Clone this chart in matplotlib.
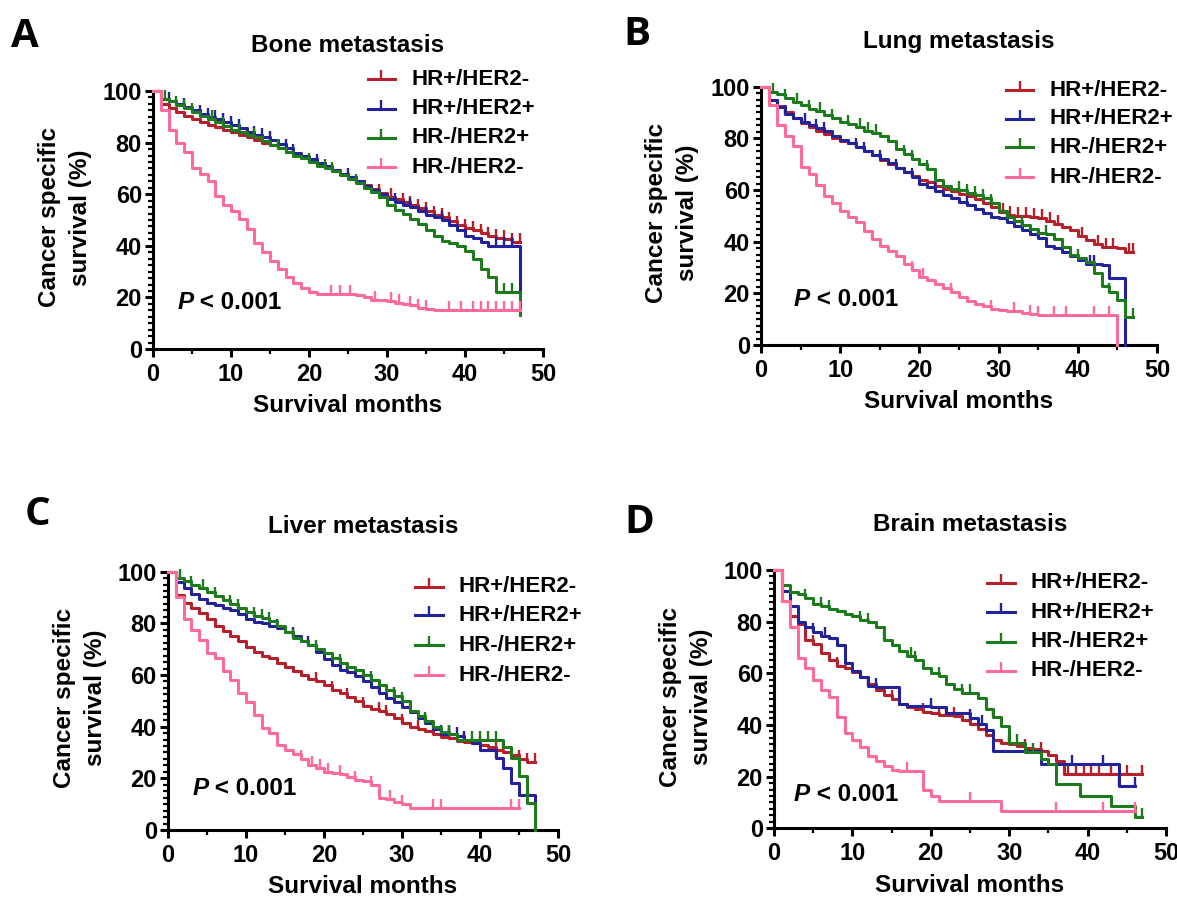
import numpy as np
import matplotlib
matplotlib.use('Agg')
import matplotlib.pyplot as plt
from matplotlib.ticker import MultipleLocator

plt.rcParams['font.family'] = ['Liberation Sans', 'DejaVu Sans']
plt.rcParams['font.weight'] = 'bold'

groups = ['HR+/HER2-', 'HR+/HER2+', 'HR-/HER2+', 'HR-/HER2-']
colors = ['#B5202A', '#22229A', '#1D7A1D', '#FF6A9C']
titles = ['Bone metastasis', 'Lung metastasis', 'Liver metastasis', 'Brain metastasis']
letters = ['A', 'B', 'C', 'D']
x_ticks = [0, 10, 20, 30, 40, 50]
y_ticks = [0, 20, 40, 60, 80, 100]

# survival (%) in each month interval [m, m+1); final = value after the last step
a_red = [100, 95, 93.5, 92, 90.5, 89, 88, 87, 86, 85,
         84, 83, 82, 81, 80, 79, 78, 76.5, 75.5, 74,
         73, 72, 70.5, 69, 68, 66.5, 65, 63.5, 62, 60.5,
         59, 58, 57, 56, 54.5, 53.5, 52, 51, 49.5, 48,
         47, 46, 45, 44, 43, 42.5, 41.5]
a_blue = [100, 97, 96, 95, 94, 92.5, 91, 90, 89, 88,
          87, 85.5, 84, 83, 82, 81, 79.5, 78, 76, 75,
          73.5, 72, 71, 69.5, 68, 66.5, 65, 63, 61.5, 60,
          58, 57, 56, 55, 53.5, 52, 51, 50, 48, 46,
          44, 43, 41.5, 40, 40, 40, 40]
a_green = [100, 97, 96, 94.5, 93.5, 92, 90.5, 89, 88, 86.5,
           85, 84, 83, 82, 80.5, 79, 78, 76.5, 75, 74,
           72.5, 71, 70, 69, 67.5, 66, 64.5, 62.5, 61, 59,
           56, 54, 52.5, 50.5, 48.5, 46, 44, 42, 41, 40,
           38, 35, 31, 28, 22, 22, 22]
a_pink = [100, 92.5, 85, 80, 76.5, 70, 68, 65, 59.5, 56,
          53.5, 50.5, 46.5, 41, 37.5, 34, 31, 28, 25.5, 23.5,
          22, 21.5, 21.5, 21.5, 21.5, 21.5, 21, 20, 19, 19,
          18.5, 18, 17.5, 17, 16, 15.5, 15, 15, 15, 15,
          15, 15, 15, 15, 15, 15, 15]
a_final = [41.5, 21, 13, 15]

b_red = [100, 95, 92.5, 90, 88, 86, 84.5, 83, 81.5, 80,
         79, 78, 76.5, 75, 73.5, 71.5, 70, 68.5, 67, 65.5,
         64, 63, 61.5, 60.5, 59.5, 58.5, 57.5, 56.5, 55, 53.5,
         51.5, 50.5, 50, 50, 49.5, 49, 48, 47, 45.5, 44.5,
         42, 40.5, 39, 38, 38, 37.5, 36]
b_blue = [100, 95, 92, 89.5, 88, 86.5, 85, 84, 83, 81,
          79.5, 78, 76.5, 75, 73.5, 72, 70.5, 68.5, 67, 65,
          62.5, 61, 59.5, 58, 57, 55.5, 54, 52.5, 51, 49.5,
          49, 47.5, 46, 44.5, 43, 41.5, 38.5, 37.5, 36, 34.5,
          33, 31.5, 31.5, 31, 26, 26]
b_green = [100, 98, 97, 95.5, 94, 93, 91.5, 90.5, 89, 88,
           86.5, 85.5, 84.5, 83, 82, 81, 79, 76, 74, 72,
           70, 68, 64, 61.5, 60.5, 60, 59, 58, 57, 55,
           52, 49.5, 48, 46.5, 45, 43.5, 43, 41, 38, 35,
           33.5, 32, 28, 23, 20.5, 17.5, 11]
b_pink = [100, 93, 85, 81, 77, 69, 66, 62, 57.5, 55,
          52, 49.5, 47.5, 44, 41, 38.5, 36.5, 34.5, 31.5, 29,
          26.5, 25, 23.5, 22, 20.5, 18.5, 17, 16, 15, 14,
          13.5, 13, 13, 12.5, 12, 11.5, 11.5, 11.5, 11.5, 11.5,
          11.5, 11.5, 11.5, 11.5, 11.5]
b_final = [36, 0, 11, 0]

c_red = [100, 91, 88, 86, 84, 81.5, 79, 77, 75, 73,
         71, 69, 67.5, 66.5, 64.5, 63, 61.5, 60, 58.5, 57.5,
         56, 54, 53, 51.5, 50, 48, 47, 46, 45, 43.5,
         41.5, 40, 39, 38.5, 37, 36, 35.5, 34.5, 34, 33.5,
         33, 32, 31, 30, 29, 27.5, 26.5]
c_blue = [100, 96, 93.5, 91.5, 89.5, 88, 87, 86, 85, 83.5,
          81.5, 80.5, 80, 79, 78, 76.5, 75, 73, 71.5, 69,
          66, 64, 62, 61, 59.5, 57.5, 55.5, 53, 51, 49.5,
          47.5, 45.5, 43.5, 41.5, 39, 37, 37, 36.5, 35, 33.5,
          31, 31, 28, 24, 18, 13.5, 13.5]
c_green = [100, 97.5, 96.5, 95, 93.5, 92, 90.5, 89, 87.5, 86,
           84.5, 83, 82, 81, 79, 76.5, 74.5, 73, 71.5, 70,
           68.5, 66.5, 64.5, 63, 62, 60, 58, 56, 54, 52,
           50, 46, 44, 42, 40, 38, 37, 35, 35, 35,
           35, 35, 35, 32, 28, 21, 10.5]
c_pink = [100, 90, 81.5, 77.5, 73.5, 68.5, 66.5, 61.5, 58, 53,
          49.5, 44.5, 39.5, 37.5, 33, 31, 29.5, 27.5, 25, 24,
          22.5, 22, 21.5, 20.5, 19.5, 19, 17.5, 12.5, 12, 11,
          10, 8.5, 8.5, 8.5, 8.5, 8.5, 8.5, 8.5, 8.5, 8.5,
          8.5, 8.5, 8.5, 8.5, 8.5]
c_final = [26.5, 0, 0, 8.5]

d_red = [100, 88, 82, 79, 73, 71.5, 68, 65, 63, 62,
         60.5, 58.5, 56, 53.5, 51.5, 50, 48, 47, 46, 45,
         44.5, 44, 44, 43.5, 42, 40.5, 38.5, 36, 34, 33,
         32.5, 32, 31, 30.5, 30, 28.5, 26, 21, 21, 21,
         21, 21, 21, 21, 21, 21, 21]
d_blue = [100, 92, 86, 80, 78, 76, 74.5, 73.5, 71, 64,
          61, 58.5, 55, 54.5, 54.5, 54.5, 48, 47.5, 47.5, 47.5,
          47, 47, 44.5, 44.5, 44.5, 42.5, 40.5, 38, 30, 30,
          30, 30, 30, 30, 25, 25, 25, 25, 25, 25,
          25, 25, 25, 25, 16.5, 16.5]
d_green = [100, 94, 91.5, 90.5, 89, 87, 86, 85, 84, 83,
           82, 80.5, 80, 78, 73, 71, 68.5, 66.5, 65, 62,
           60, 59, 56, 54, 52.5, 52.5, 50.5, 46, 43, 39.5,
           33, 33, 29.5, 29.5, 27, 25, 17, 17, 17, 12.5,
           12.5, 12.5, 12.5, 8.5, 8.5, 8.5, 4.5]
d_pink = [100, 88, 78, 66, 62, 57.5, 53.5, 51, 43, 37,
          34, 31.5, 28, 26, 24, 22.5, 22, 22, 22, 15,
          12.5, 10.5, 10.5, 10.5, 10.5, 10.5, 10.5, 10.5, 10.5, 6.5,
          6.5, 6.5, 6.5, 6.5, 6.5, 6.5, 6.5, 6.5, 6.5, 6.5,
          6.5, 6.5, 6.5, 6.5, 6.5, 6.5]
d_final = [21, 16.5, 4.5, 6.5]

# censored observations (months)
a_cens = [[29, 30.5, 32, 33, 34, 35, 36, 37, 38, 39, 40, 41, 42, 43, 44, 45, 46, 47],
          [2, 4, 6, 7, 8, 9, 10, 11, 13, 14, 15, 17, 18, 21, 25, 31, 33, 35, 37, 44, 45, 46],
          [1.5, 3, 4, 5, 7.5, 9, 11, 13, 16, 20, 22, 23, 26, 45, 46],
          [22.8, 24, 25.2, 28.5, 30.5, 31.5, 33, 34, 35, 38, 39.5, 41, 42, 43, 44, 45, 46, 47]]
b_cens = [[29, 30.5, 31.5, 32.5, 33.5, 34.5, 35.5, 36.5, 37.5, 40.5, 42.5, 43.5, 44.5, 46.5, 47],
          [3, 5.5, 7, 8, 12, 13, 15, 17, 19, 22, 26, 31, 33, 35, 41.5, 42],
          [1.5, 3, 4.5, 6, 7.5, 9, 11, 12.5, 13.5, 14.5, 18, 19, 21, 25, 26, 27, 28, 29, 33, 36, 40, 44, 47],
          [14, 19, 20.5, 24, 29, 32, 34, 35, 37, 38.5, 42, 44]]
c_cens = [[19, 21, 23, 25, 27, 28, 30, 32, 34, 36, 38, 40, 42, 43, 45, 46, 47],
          [14, 16, 18, 23, 27, 33, 35, 36, 37, 38, 42],
          [1.5, 3, 4.5, 6, 8, 9, 11, 12, 13, 16, 19, 22, 26, 29, 30, 33, 36, 39, 40, 41, 42],
          [17, 18.5, 19.5, 20.5, 22, 24, 26, 28.5, 30, 34, 35, 44, 45]]
d_cens = [[5, 8, 15, 19, 21, 22, 23, 25, 30, 32, 34, 37.5, 38.5, 39.5, 40.5, 41.5, 43, 45, 47],
          [5, 6.5, 12, 13, 20, 25, 26.5, 38, 42, 44, 46],
          [4, 6, 7, 11, 12, 14, 17.5, 18, 21, 24, 25, 28, 31, 33, 47],
          [17, 25, 36, 42, 46]]

panels = [
    dict(series=[a_red, a_blue, a_green, a_pink], final=a_final, cens=a_cens,
         rect=[0.1300, 0.6109, 0.3314, 0.2876], leg=(27.5, 31.0, 33.1, [104.5, 93.1, 81.9, 70.5]),
         p=(3.1, 18.1)),
    dict(series=[b_red, b_blue, b_green, b_pink], final=b_final, cens=b_cens,
         rect=[0.6466, 0.6154, 0.3364, 0.2880], leg=(30.9, 34.4, 36.4, [98.7, 87.5, 76.5, 64.9]),
         p=(4.1, 17.7)),
    dict(series=[c_red, c_blue, c_green, c_pink], final=c_final, cens=c_cens,
         rect=[0.1427, 0.0747, 0.3314, 0.2880], leg=(31.7, 35.3, 37.3, [94.2, 83.2, 71.5, 59.9]),
         p=(3.1, 15.9)),
    dict(series=[d_red, d_blue, d_green, d_pink], final=d_final, cens=d_cens,
         rect=[0.6576, 0.0766, 0.3330, 0.2880], leg=(27.2, 30.8, 32.7, [95.1, 83.6, 72.3, 61.0]),
         p=(2.5, 12.9)),
]
letter_pos = [(0.021, 0.959), (0.541, 0.961), (0.032, 0.426), (0.543, 0.418)]

fig = plt.figure(figsize=(11.77, 8.97), dpi=100)

for k, pan in enumerate(panels):
    ax = fig.add_axes(pan['rect'])
    for vals, fin, cens, col in zip(pan['series'], pan['final'], pan['cens'], colors):
        x = np.arange(len(vals) + 1)
        y = list(vals) + [fin]
        ax.step(x, y, where='post', color=col, lw=2.2, clip_on=False, zorder=3)
        cy = [vals[min(int(t), len(vals) - 1)] for t in cens]
        ax.plot(cens, cy, ls='none', marker=2, ms=6.5, mew=1.7, color=col,
                clip_on=False, zorder=3)
    ax.set_xlim(0, 50)
    ax.set_ylim(0, 100)
    ax.set_xticks(x_ticks)
    ax.set_yticks(y_ticks)
    ax.xaxis.set_minor_locator(MultipleLocator(5))
    ax.yaxis.set_minor_locator(MultipleLocator(2.5))
    for s in ['top', 'right']:
        ax.spines[s].set_visible(False)
    for s in ['left', 'bottom']:
        ax.spines[s].set_linewidth(2.2)
    ax.tick_params(which='major', direction='out', length=6, width=2.2,
                   labelsize=17, pad=2)
    ax.tick_params(which='minor', direction='out', length=3.5, width=1.6)
    ax.tick_params(axis='x', which='major', pad=4)
    for lab in ax.get_xticklabels() + ax.get_yticklabels():
        lab.set_fontweight('bold')

    ax.text(0.5, 1.175, titles[k], transform=ax.transAxes, ha='center', va='center',
            fontsize=17.5, fontweight='bold')
    ax.text(0.5, -0.22, 'Survival months', transform=ax.transAxes, ha='center',
            va='center', fontsize=17.5, fontweight='bold')
    ax.text(-0.225, 0.51, 'Cancer specific\nsurvival (%)', transform=ax.transAxes,
            ha='center', va='center', rotation=90, fontsize=17.5, fontweight='bold',
            multialignment='center', linespacing=1.45)

    lx0, lx1, tx, lys = pan['leg']
    for col, name, ly in zip(colors, groups, lys):
        ax.plot([lx0, lx1], [ly, ly], color=col, lw=2.2, clip_on=False)
        ax.plot([(lx0 + lx1) / 2], [ly], ls='none', marker=2, ms=6.5, mew=1.7,
                color=col, clip_on=False)
        ax.text(tx, ly, name, ha='left', va='center', fontsize=16, fontweight='bold')

    px, py = pan['p']
    tp = ax.text(px, py, 'P', ha='left', va='center', fontsize=17.5,
                 fontweight='bold', fontstyle='italic')
    ax.annotate(' < 0.001', xy=(1, 0), xycoords=tp, ha='left', va='bottom',
                fontsize=17.5, fontweight='bold')

    lx, ly = letter_pos[k]
    fig.text(lx, ly, letters[k], ha='center', va='center', fontsize=29,
             fontweight='bold', family=['Open Sans', 'DejaVu Sans'])

fig.savefig('out.png', dpi=100)
